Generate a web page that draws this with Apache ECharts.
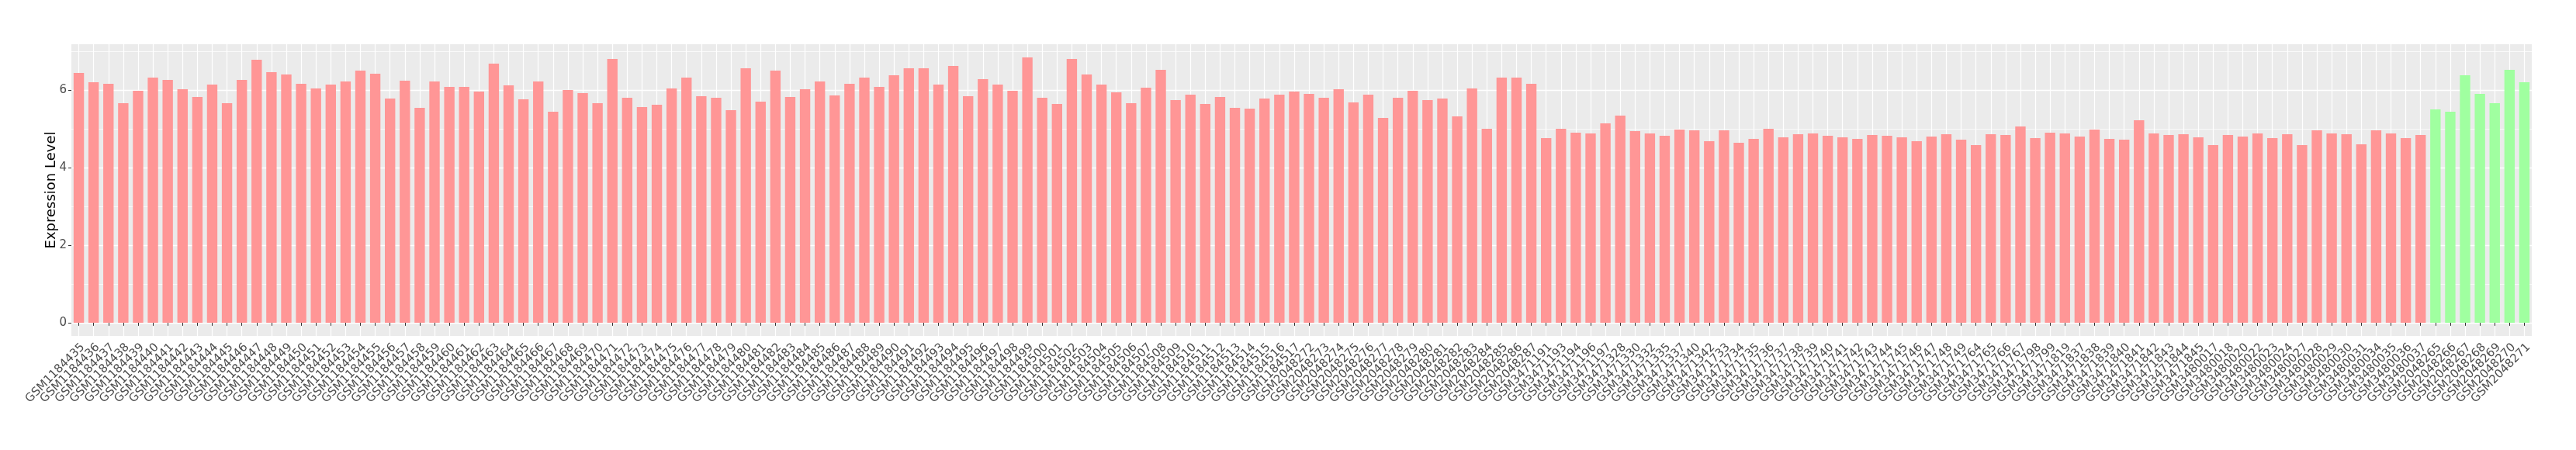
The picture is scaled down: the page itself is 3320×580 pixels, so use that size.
<!DOCTYPE html>
<html>
<head>
<meta charset="utf-8">
<script src="https://cdn.jsdelivr.net/npm/echarts@6/dist/echarts.min.js"></script>
<style>
  html, body { margin: 0; padding: 0; background: #ffffff; }
  #chart { width: 3320px; height: 580px; }
</style>
</head>
<body>
<div id="chart"></div>
<script>
// ---- data ----
const redSamples = [
  "GSM1184435","GSM1184436","GSM1184437","GSM1184438","GSM1184439","GSM1184440","GSM1184441","GSM1184442","GSM1184443","GSM1184444",
  "GSM1184445","GSM1184446","GSM1184447","GSM1184448","GSM1184449","GSM1184450","GSM1184451","GSM1184452","GSM1184453","GSM1184454",
  "GSM1184455","GSM1184456","GSM1184457","GSM1184458","GSM1184459","GSM1184460","GSM1184461","GSM1184462","GSM1184463","GSM1184464",
  "GSM1184465","GSM1184466","GSM1184467","GSM1184468","GSM1184469","GSM1184470","GSM1184471","GSM1184472","GSM1184473","GSM1184474",
  "GSM1184475","GSM1184476","GSM1184477","GSM1184478","GSM1184479","GSM1184480","GSM1184481","GSM1184482","GSM1184483","GSM1184484",
  "GSM1184485","GSM1184486","GSM1184487","GSM1184488","GSM1184489","GSM1184490","GSM1184491","GSM1184492","GSM1184493","GSM1184494",
  "GSM1184495","GSM1184496","GSM1184497","GSM1184498","GSM1184499","GSM1184500","GSM1184501","GSM1184502","GSM1184503","GSM1184504",
  "GSM1184505","GSM1184506","GSM1184507","GSM1184508","GSM1184509","GSM1184510","GSM1184511","GSM1184512","GSM1184513","GSM1184514",
  "GSM1184515","GSM1184516","GSM1184517",
  "GSM2048272","GSM2048273","GSM2048274","GSM2048275","GSM2048276","GSM2048277","GSM2048278","GSM2048279","GSM2048280","GSM2048281",
  "GSM2048282","GSM2048283","GSM2048284","GSM2048285","GSM2048286","GSM2048287",
  "GSM3471191","GSM3471193","GSM3471194","GSM3471196","GSM3471197","GSM3471328","GSM3471330","GSM3471332","GSM3471335","GSM3471337",
  "GSM3471340","GSM3471342","GSM3471733","GSM3471734","GSM3471735","GSM3471736","GSM3471737","GSM3471738","GSM3471739","GSM3471740",
  "GSM3471741","GSM3471742","GSM3471743","GSM3471744","GSM3471745","GSM3471746","GSM3471747","GSM3471748","GSM3471749","GSM3471764",
  "GSM3471765","GSM3471766","GSM3471767","GSM3471798","GSM3471799","GSM3471819","GSM3471837","GSM3471838","GSM3471839","GSM3471840",
  "GSM3471841","GSM3471842","GSM3471843","GSM3471844","GSM3471845","GSM3480017","GSM3480018","GSM3480020","GSM3480022","GSM3480023",
  "GSM3480024","GSM3480027","GSM3480028","GSM3480029","GSM3480030","GSM3480031","GSM3480034","GSM3480035","GSM3480036","GSM3480037"
];
const redValues = [
  6.44,6.20,6.16,5.66,5.98,6.32,6.26,6.02,5.82,6.14,
  5.66,6.26,6.78,6.46,6.40,6.16,6.04,6.14,6.22,6.50,
  6.42,5.78,6.24,5.54,6.22,6.08,6.08,5.96,6.68,6.12,
  5.76,6.22,5.44,6.00,5.92,5.66,6.80,5.80,5.56,5.62,
  6.04,6.32,5.84,5.80,5.48,6.56,5.70,6.50,5.82,6.02,
  6.22,5.86,6.16,6.32,6.08,6.38,6.56,6.56,6.14,6.62,
  5.84,6.28,6.14,5.98,6.84,5.80,5.64,6.80,6.40,6.14,
  5.94,5.66,6.06,6.52,5.74,5.88,5.64,5.82,5.54,5.52,
  5.78,5.88,5.96,
  5.90,5.80,6.02,5.68,5.88,5.28,5.80,5.98,5.74,5.78,
  5.32,6.04,5.00,6.32,6.32,6.16,
  4.76,5.00,4.90,4.88,5.14,5.34,4.94,4.88,4.82,4.98,
  4.96,4.68,4.96,4.64,4.74,5.00,4.78,4.86,4.88,4.82,
  4.78,4.74,4.84,4.82,4.78,4.68,4.80,4.86,4.72,4.58,
  4.86,4.84,5.06,4.76,4.90,4.88,4.80,4.98,4.74,4.72,
  5.22,4.88,4.84,4.86,4.78,4.58,4.84,4.80,4.88,4.76,
  4.86,4.58,4.96,4.88,4.86,4.60,4.96,4.88,4.76,4.84
];
const greenSamples = ["GSM2048265","GSM2048266","GSM2048267","GSM2048268","GSM2048269","GSM2048270","GSM2048271"];
const greenValues = [5.50,5.44,6.38,5.90,5.66,6.52,6.20];
const yTickValues = [0, 2, 4, 6];
const yTitle = "Expression Level";

// ---- build ----
const RED = '#FF9696', GREEN = '#A0FFA0';
const categories = redSamples.concat(greenSamples);
const barData = redValues.map(v => ({ value: v, itemStyle: { color: RED } }))
  .concat(greenValues.map(v => ({ value: v, itemStyle: { color: GREEN } })));
const dataMax = Math.max.apply(null, redValues.concat(greenValues));
const yMin = -0.05 * dataMax, yMax = 1.05 * dataMax;

const FONT = 'DejaVu Sans';
const chart = echarts.init(document.getElementById('chart'), null, { renderer: 'canvas' });
chart.setOption({
  animation: false,
  backgroundColor: '#FFFFFF',
  grid: {
    left: 92, top: 57, width: 3171, height: 376,
    show: true, backgroundColor: '#EBEBEB', borderWidth: 0, containLabel: false
  },
  xAxis: {
    type: 'category',
    data: categories,
    axisLine: { show: false },
    axisTick: { show: true, alignWithLabel: true, interval: 0, length: 4, lineStyle: { color: '#333333', width: 1 } },
    axisLabel: { interval: 0, rotate: 45, fontSize: 15, fontFamily: FONT, color: '#4D4D4D', margin: 7,
                 align: 'right', verticalAlign: 'top' },
    splitLine: { show: true, interval: 0, alignWithLabel: true, lineStyle: { color: '#FFFFFF', width: 1.2 } }
  },
  yAxis: {
    type: 'value',
    min: yMin, max: yMax, splitNumber: 4,
    name: yTitle, nameLocation: 'middle', nameGap: 17, nameRotate: 90, nameMoveOverlap: false,
    nameTextStyle: { fontSize: 18, fontFamily: FONT, color: '#000000' },
    axisLine: { show: false },
    axisTick: { show: true, length: 4, customValues: yTickValues, lineStyle: { color: '#333333', width: 1 } },
    axisLabel: { fontSize: 15, fontFamily: FONT, color: '#4D4D4D', margin: 6, customValues: yTickValues },
    splitLine: { show: true, lineStyle: { color: '#FFFFFF', width: 1.4 } },
    minorTick: { show: false, splitNumber: 2 },
    minorSplitLine: { show: true, lineStyle: { color: '#FFFFFF', width: 0.7 } }
  },
  series: [{
    type: 'bar',
    data: barData,
    barWidth: '70%',
    itemStyle: { borderWidth: 0 }
  }]
});
</script>
</body>
</html>
